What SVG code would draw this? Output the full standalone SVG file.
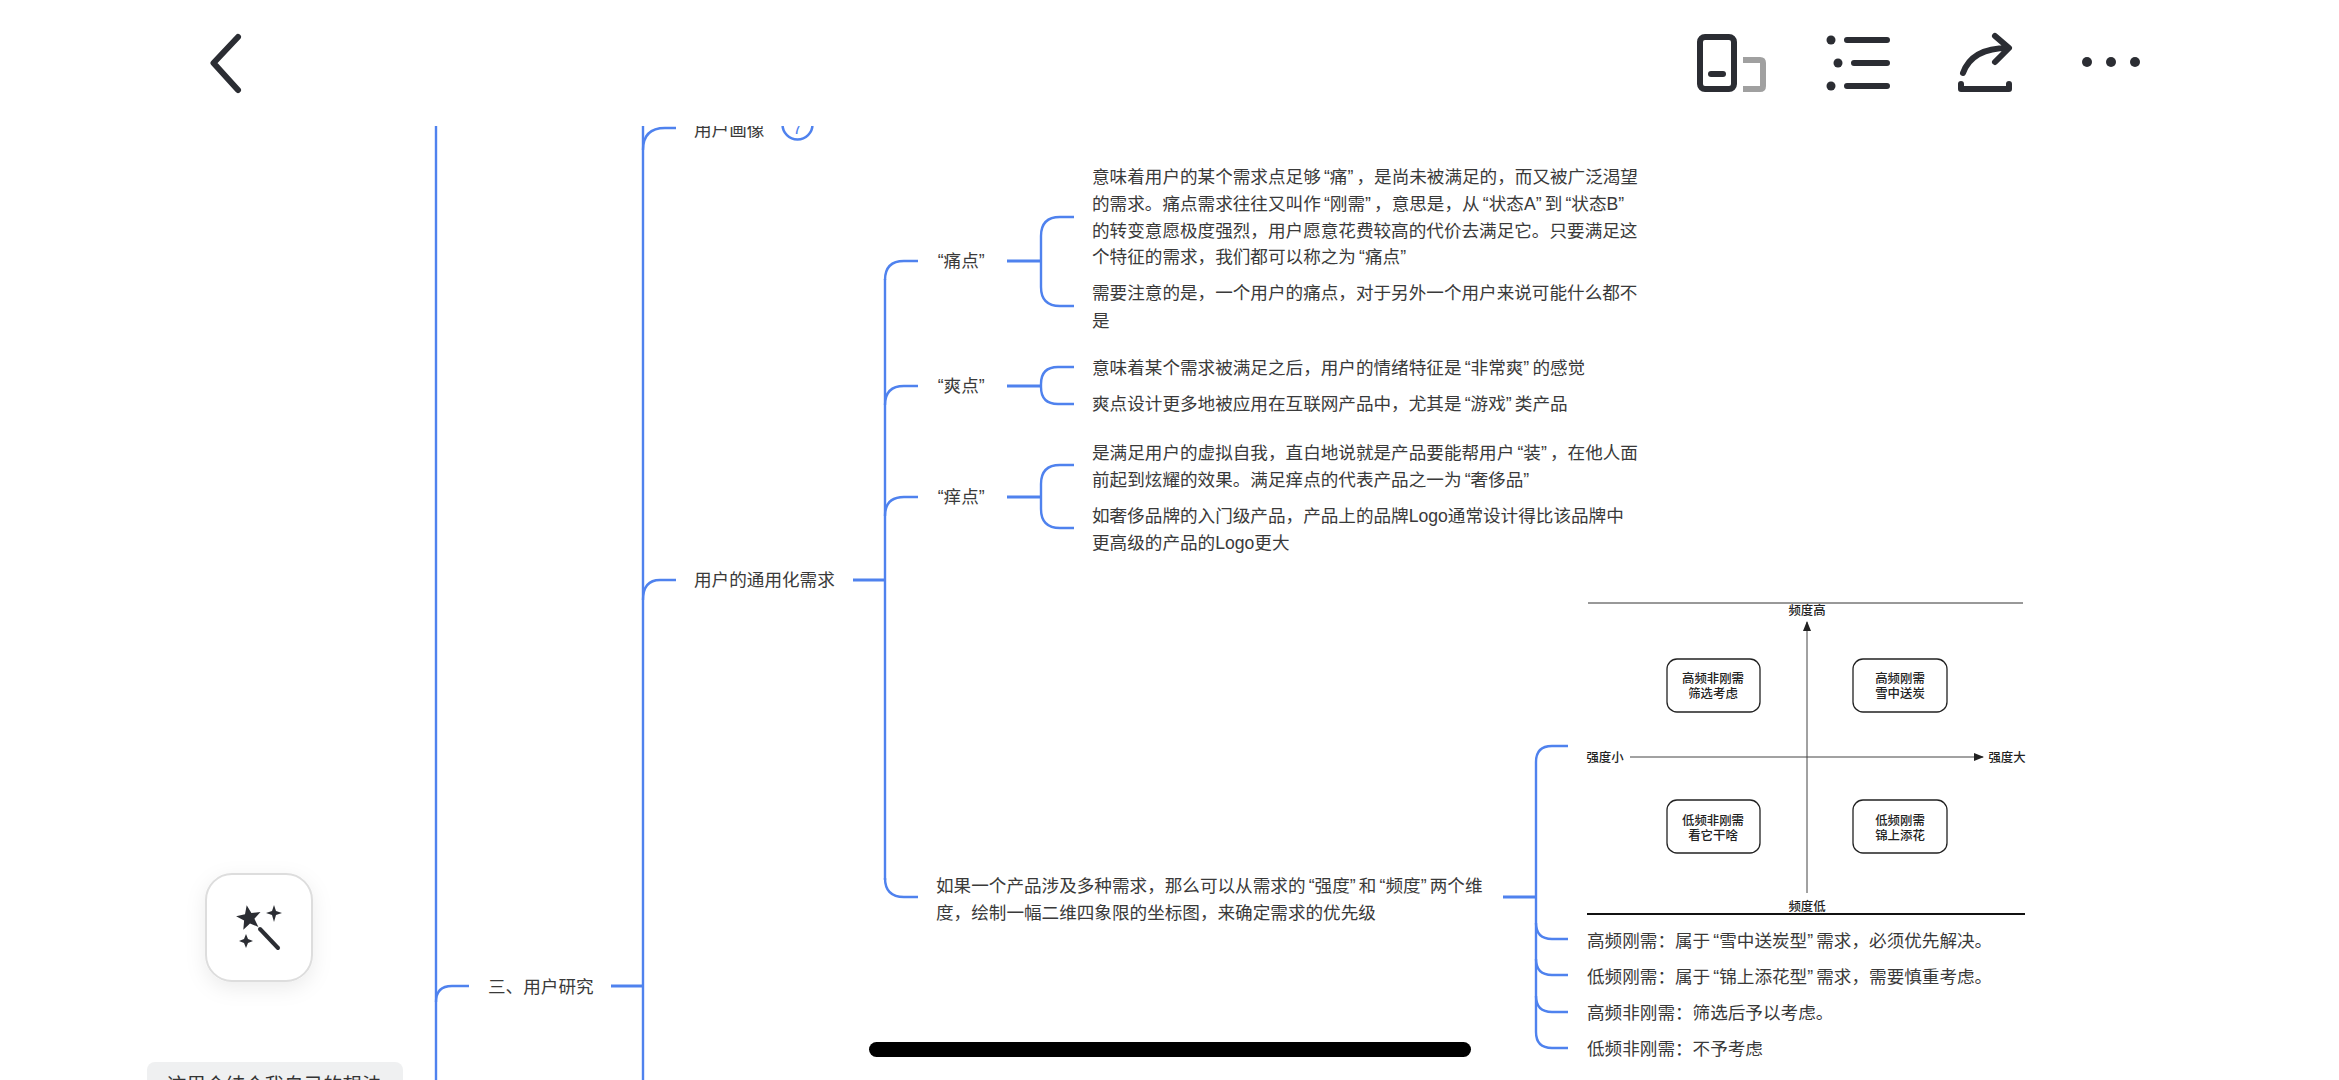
<svg xmlns="http://www.w3.org/2000/svg" width="2339" height="1080" viewBox="0 0 2339 1080">
<defs>
<filter id="soft" x="-40%" y="-40%" width="180%" height="180%"><feDropShadow dx="0" dy="6" stdDeviation="10" flood-color="#000" flood-opacity="0.08"/></filter>
<marker id="tri" viewBox="0 0 10 8" refX="9" refY="4" markerUnits="userSpaceOnUse" markerWidth="10" markerHeight="8" orient="auto"><path d="M0 0L10 4L0 8z" fill="#222"/></marker>
</defs>
<style>
text{font-family:"Liberation Sans","Noto Sans CJK SC",sans-serif;font-size:17.6px;fill:#3a3a3a}
.c{letter-spacing:3.2px}
.b{fill:none;stroke:#4f82ee;stroke-width:2.4}
.t{fill:none;stroke:#4f82ee;stroke-width:3}
.ic{fill:none;stroke:#2b2d33;stroke-width:6;stroke-linecap:round;stroke-linejoin:round}
.f{fill:#2b2d33}
.q{font-family:"Noto Sans CJK SC",sans-serif;font-size:12.4px;font-weight:500;fill:#222;text-anchor:middle}
.box{fill:#fff;stroke:#222;stroke-width:1.3}
</style>
<rect width="2339" height="1080" fill="#fff"/>
<g id="connectors">
<path class="b" d="M436 126V1080"/>
<path class="b" d="M643 126V1080"/>
<path class="b" d="M436 1002Q436 986 452 986H469"/>
<path class="t" d="M611 986H643"/>
<path class="b" d="M643 150Q643 128 665 128H676"/>
<path class="b" d="M643 600Q643 580 660 580H676"/>
<path class="t" d="M853 580H886"/>
<path class="b" d="M885 279V880"/>
<path class="b" d="M918 261H904Q885 261 885 280"/>
<path class="b" d="M918 386H904Q885 386 885 405"/>
<path class="b" d="M918 497H904Q885 497 885 516"/>
<path class="b" d="M918 897H904Q885 897 885 878"/>
<path class="t" d="M1007 261H1041"/>
<path class="b" d="M1074 217H1060Q1041 217 1041 236V287Q1041 306 1060 306H1074"/>
<path class="t" d="M1007 386H1041"/>
<path class="b" d="M1074 367H1058Q1041 367 1041 384V387Q1041 404 1058 404H1074"/>
<path class="t" d="M1007 497H1041"/>
<path class="b" d="M1074 465H1060Q1041 465 1041 484V509Q1041 528 1060 528H1074"/>
<path class="t" d="M1503 897H1536"/>
<path class="b" d="M1568 746H1552Q1536 746 1536 762V1032Q1536 1048 1552 1048H1568"/>
<path class="b" d="M1536 923Q1536 939 1552 939H1568"/>
<path class="b" d="M1536 959Q1536 975 1552 975H1568"/>
<path class="b" d="M1536 996Q1536 1012 1552 1012H1568"/>
</g>
<g id="n-root"><text x="488" y="993">三、用户研究</text></g>
<g id="n-persona"><text x="694" y="136">用户画像</text><circle cx="797.500" cy="124.500" r="15" fill="none" stroke="#4f82ee" stroke-width="2.500"/><text x="797.500" y="134" text-anchor="middle" style="fill:#4f82ee;font-size:17px">7</text></g>
<g id="n-general"><text x="694" y="586">用户的通用化需求</text></g>
<g id="n-pain"><text x="934.500" y="267"><tspan dx="3.200">“</tspan>痛点<tspan class="c">”</tspan></text></g>
<g id="n-pain-1"><text x="1092" y="183">意味着用户的某个需求点足够<tspan dx="3.200">“</tspan>痛<tspan class="c">”</tspan>，是尚未被满足的，而又被广泛渴望</text><text x="1092" y="210">的需求。痛点需求往往又叫作<tspan dx="3.200">“</tspan>刚需<tspan class="c">”</tspan>，意思是，从<tspan dx="3.200">“</tspan>状态A<tspan class="c">”</tspan>到<tspan dx="3.200">“</tspan>状态B<tspan class="c">”</tspan></text><text x="1092" y="237">的转变意愿极度强烈，用户愿意花费较高的代价去满足它。只要满足这</text><text x="1092" y="263">个特征的需求，我们都可以称之为<tspan dx="3.200">“</tspan>痛点<tspan class="c">”</tspan></text></g>
<g id="n-pain-2"><text x="1092" y="299">需要注意的是，一个用户的痛点，对于另外一个用户来说可能什么都不</text><text x="1092" y="327">是</text></g>
<g id="n-cool"><text x="934.500" y="392"><tspan dx="3.200">“</tspan>爽点<tspan class="c">”</tspan></text></g>
<g id="n-cool-1"><text x="1092" y="374">意味着某个需求被满足之后，用户的情绪特征是<tspan dx="3.200">“</tspan>非常爽<tspan class="c">”</tspan>的感觉</text></g>
<g id="n-cool-2"><text x="1092" y="410">爽点设计更多地被应用在互联网产品中，尤其是<tspan dx="3.200">“</tspan>游戏<tspan class="c">”</tspan>类产品</text></g>
<g id="n-itch"><text x="934.500" y="503"><tspan dx="3.200">“</tspan>痒点<tspan class="c">”</tspan></text></g>
<g id="n-itch-1"><text x="1092" y="459">是满足用户的虚拟自我，直白地说就是产品要能帮用户<tspan dx="3.200">“</tspan>装<tspan class="c">”</tspan>，在他人面</text><text x="1092" y="486">前起到炫耀的效果。满足痒点的代表产品之一为<tspan dx="3.200">“</tspan>奢侈品<tspan class="c">”</tspan></text></g>
<g id="n-itch-2"><text x="1092" y="522">如奢侈品牌的入门级产品，产品上的品牌Logo通常设计得比该品牌中</text><text x="1092" y="549">更高级的产品的Logo更大</text></g>
<g id="n-multi"><text x="936" y="892">如果一个产品涉及多种需求，那么可以从需求的<tspan dx="3.200">“</tspan>强度<tspan class="c">”</tspan>和<tspan dx="3.200">“</tspan>频度<tspan class="c">”</tspan>两个维</text><text x="936" y="919">度，绘制一幅二维四象限的坐标图，来确定需求的优先级</text></g>
<g id="n-chart">
<path d="M1588 603H2023" stroke="#333" stroke-width="1" fill="none"/>
<path d="M1587 914H2025" stroke="#111" stroke-width="2" fill="none"/>
<path d="M1807 893V622" stroke="#444" stroke-width="1" fill="none" marker-end="url(#tri)"/>
<path d="M1630 757H1983" stroke="#444" stroke-width="1" fill="none" marker-end="url(#tri)"/>
<text class="q" x="1807" y="615">频度高</text>
<text class="q" x="1807" y="911">频度低</text>
<text class="q" x="1605" y="762">强度小</text>
<text class="q" x="2007" y="762">强度大</text>
<rect class="box" x="1667" y="659" width="93" height="53" rx="10"/>
<rect class="box" x="1853" y="659" width="94" height="53" rx="10"/>
<rect class="box" x="1667" y="800" width="93" height="53" rx="10"/>
<rect class="box" x="1853" y="800" width="94" height="53" rx="10"/>
<text class="q" x="1713" y="683">高频非刚需</text><text class="q" x="1713" y="698">筛选考虑</text>
<text class="q" x="1900" y="683">高频刚需</text><text class="q" x="1900" y="698">雪中送炭</text>
<text class="q" x="1713" y="825">低频非刚需</text><text class="q" x="1713" y="840">看它干啥</text>
<text class="q" x="1900" y="825">低频刚需</text><text class="q" x="1900" y="840">锦上添花</text>
</g>
<g id="n-q1"><text x="1587" y="947">高频刚需：属于<tspan dx="3.200">“</tspan>雪中送炭型<tspan class="c">”</tspan>需求，必须优先解决。</text></g>
<g id="n-q2"><text x="1587" y="983">低频刚需：属于<tspan dx="3.200">“</tspan>锦上添花型<tspan class="c">”</tspan>需求，需要慎重考虑。</text></g>
<g id="n-q3"><text x="1587" y="1019">高频非刚需：筛选后予以考虑。</text></g>
<g id="n-q4"><text x="1587" y="1055">低频非刚需：不予考虑</text></g>
<g id="header">
<rect width="2339" height="126" fill="#fff"/>
<path class="ic" d="M238 37L213.500 63L238 90"/>
<rect class="ic" x="1700" y="37" width="34" height="52" rx="5"/>
<path class="ic" d="M1711 74H1723"/>
<path d="M1743 60H1760Q1763 60 1763 63V86Q1763 89 1760 89H1743" fill="none" stroke="#a0a0a0" stroke-width="6"/>
<circle class="f" cx="1831" cy="40" r="4.500"/><circle class="f" cx="1838" cy="63" r="4.500"/><circle class="f" cx="1831" cy="86" r="4.500"/>
<path class="ic" d="M1847 40H1887M1854 63H1887M1847 86H1887"/>
<path class="ic" d="M1963 73Q1972 48 2008 48M1995 36L2009 48L1995 62M1961 84V89H2009V84"/>
<circle class="f" cx="2087" cy="62" r="5"/><circle class="f" cx="2111" cy="62" r="5"/><circle class="f" cx="2135" cy="62" r="5"/>
</g>
<g id="magic">
<rect x="206" y="874" width="106" height="107" rx="26" fill="#fff" stroke="#ddd" stroke-width="2" filter="url(#soft)"/>
<path class="f" d="M246.700 905.200L251.400 913.100L260.500 911.900L254.400 918.800L258.400 927L250 923.400L243.300 929.700L244.100 920.600L236.100 916.200L245 914.200Z"/>
<path class="f" d="M274 905L276 911L282 913L276 915L274 922L272 915L266 913L272 911Z"/>
<path class="f" d="M246 934L248 939L253 941L248 943L246 948L244 943L239 941L244 939Z"/>
<path class="ic" style="stroke-width:4" d="M260 929L278 948"/>
</g>
<g id="hint">
<rect x="147" y="1062" width="256" height="40" rx="8" fill="#eff0f1"/>
<text x="167" y="1092" style="font-size:19.500px;fill:#333">这里会结合我自己的想法</text>
</g>
<g id="home"><rect x="869" y="1042" width="602" height="15" rx="7.500" fill="#000"/></g>
</svg>
